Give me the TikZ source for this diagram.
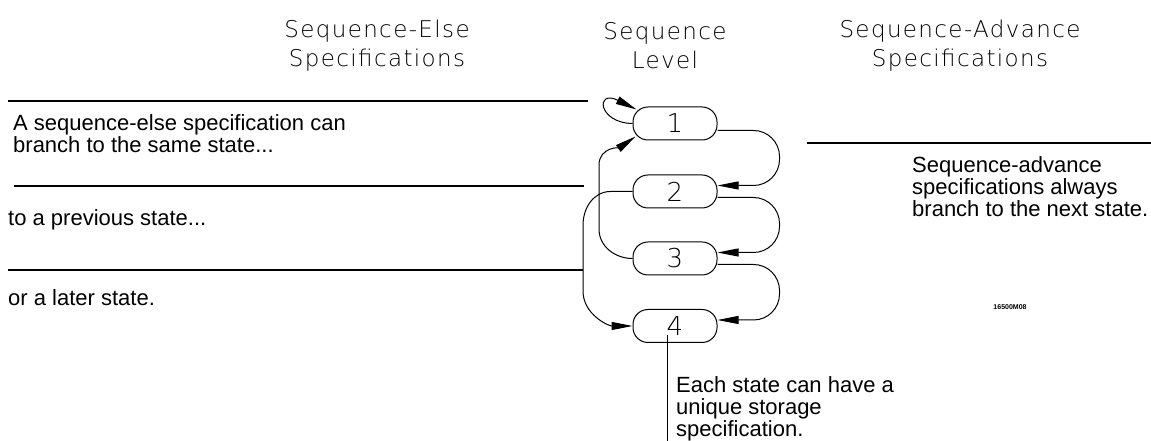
\documentclass[tikz,border=0pt]{standalone}
\usepackage{fontspec}
\setmainfont{Liberation Sans}
\newfontfamily\plotfont[LetterSpace=6]{DejaVu Sans ExtraLight}
\usetikzlibrary{arrows.meta, calc}

\tikzset{
  state/.style={draw, line width=1pt, rounded corners=15pt, minimum width=84pt, minimum height=33pt, inner sep=0pt, font=\plotfont\fontsize{26}{26}\selectfont},
  flow/.style={line width=1pt, -{Triangle[length=21pt,width=8pt]}},
  rule/.style={line width=1.1pt},
  heading/.style={align=center, inner sep=0pt, font=\plotfont\fontsize{23}{29}\selectfont},
  note/.style={anchor=base west, align=left, inner sep=0pt, font=\fontsize{22}{22}\selectfont},
}

\begin{document}
\begin{tikzpicture}[x=1pt,y=1pt]
\useasboundingbox (0,0) rectangle (1151,441);

% Headings
\node (elsehead) at (377,395) [heading] {Sequence-Else\\Specifications};
\node (levelhead) at (665,395) [heading] {Sequence\\Level};
\node (advhead) at (960,395) [heading] {Sequence-Advance\\Specifications};

% States
\node (n1) at (675,317.5) [state] {1};
\node (n2) at (675,249.5) [state] {2};
\node (n3) at (675,182.5) [state] {3};
\node (n4) at (675,115) [state] {4};

% Sequence-advance branches
\draw[flow, rounded corners=26pt] ($(n1.east)+(0,-7)$) -- ++(62,0) |- ($(n2.east)+(0,6)$);
\draw[flow, rounded corners=26pt] ($(n2.east)+(0,-6)$) -- ++(62,0) |- ($(n3.east)+(0,6)$);
\draw[flow, rounded corners=26pt] ($(n3.east)+(0,-6)$) -- ++(62,0) |- ($(n4.east)+(0,6)$);

% Sequence-else branches
\draw[flow] (n1.west) .. controls (598,318) and (595,352) .. ($(n1.north west)+(4,-3)$);
\draw[flow] (n3.west) to[out=180,in=-90] (599,212) -- (599,276) to[out=90,in=215] ($(n1.south west)+(3,4)$);
\draw[flow] (n2.west) -- ++(-22,0) to[out=180,in=90] (583,216) -- (583,150) to[out=-90,in=180] (n4.west);

% Rules
\coordinate (r1a) at (8,340);   \coordinate (r1b) at (588,340);
\coordinate (r2a) at (14,255);  \coordinate (r2b) at (584,255);
\coordinate (r3a) at (8,171);   \coordinate (r3b) at (583,171);
\coordinate (r4a) at (807,298); \coordinate (r4b) at (1151,298);
\draw[rule] (r1a) -- (r1b);
\draw[rule] (r2a) -- (r2b);
\draw[rule] (r3a) -- (r3b);
\draw[rule] (r4a) -- (r4b);

% Storage leader
\coordinate (stor) at (667,0);
\draw[line width=1pt] ($(n4.center)+(-8,-9)$) -- (stor);

% Text Node
\node (sametxt) at (13,288) [note] {A sequence-else specification can\\branch to the same state...};
% Text Node
\node (prevtxt) at (8,215) [note] {to a previous state...};
% Text Node
\node (latertxt) at (8,135) [note] {or a later state.};
% Text Node
\node (advtxt) at (912,224) [note] {Sequence-advance\\specifications always\\branch to the next state.};
% Text Node
\node (stortxt) at (676,4) [note] {Each state can have a\\unique storage\\specification.};
% Text Node
\node (figid) at (1010,134) [font=\bfseries\fontsize{7}{7}\selectfont] {16500M08};

\end{tikzpicture}
\end{document}
